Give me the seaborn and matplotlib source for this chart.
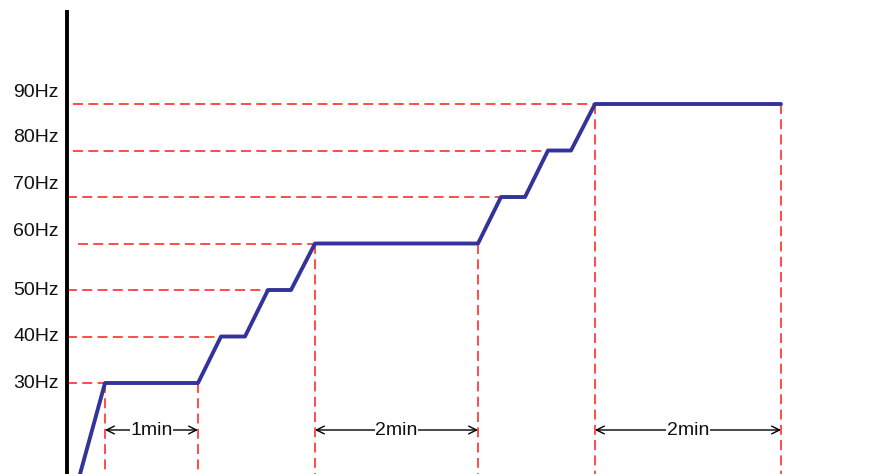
import numpy as np
import pandas as pd
import matplotlib.pyplot as plt
import seaborn as sns

sns.set_style("white")
plt.rcParams['font.family'] = ['Liberation Sans', 'DejaVu Sans']

# speed profile (time in drawing units, frequency in Hz)
t = [80, 105, 198, 221, 245, 268, 291, 315, 478, 501, 525, 548, 571, 595, 781]
freq = [10.4, 30, 30, 40, 40, 50, 50, 60, 60, 70, 70, 80, 80, 90, 90]

levels = [90, 80, 70, 60, 50, 40, 30]
level_labels = ['90Hz', '80Hz', '70Hz', '60Hz', '50Hz', '40Hz', '30Hz']
level_end = [595, 548, 501, 315, 268, 221, 105]
guide_start = [73, 73, 67, 78, 67, 67, 67]
label_y = [92.4, 82.7, 72.6, 62.5, 50, 40, 30]

marks_t = [105, 198, 315, 478, 595, 781]
marks_f = [30, 30, 60, 60, 90, 90]

spans = [(105, 198, '1min'), (315, 478, '2min'), (595, 781, '2min')]

f_bottom, f_top = 10.43, 112.37

fig = plt.figure(figsize=(8.95, 4.74), dpi=100)
ax = fig.add_axes([0, 0, 1, 1])
ax.set_xlim(0, 895)
ax.set_ylim(f_bottom, f_top)
ax.axis('off')

red = '#ff1a1a'
for lv, x0, x1 in zip(levels, guide_start, level_end):
    ax.plot([x0, x1], [lv, lv], color=red, lw=1.1, dashes=(6.5, 3.5))
for x, f in zip(marks_t, marks_f):
    ax.plot([x, x], [f, f_bottom], color=red, lw=1.1, dashes=(6.5, 3.5))

df = pd.DataFrame({'t': t, 'freq': freq})
sns.lineplot(data=df, x='t', y='freq', sort=False, color='#333399', lw=2.8, ax=ax)

ax.plot([67, 67], [110.2, f_bottom], color='black', lw=2.8, solid_capstyle='butt')

for lab, y in zip(level_labels, label_y):
    ax.text(59, y, lab, ha='right', va='center', fontsize=14, color='#111111')

arrow_f = 30 - (430 - 383) / 4.65
for x0, x1, lab in spans:
    ax.annotate('', xy=(x0, arrow_f), xytext=(x1, arrow_f),
                arrowprops=dict(arrowstyle='<->', color='black', lw=1,
                                shrinkA=0, shrinkB=0, mutation_scale=14))
    ax.text((x0 + x1) / 2, arrow_f, lab, ha='center', va='center', fontsize=14,
            color='#111111', bbox=dict(facecolor='white', edgecolor='none', pad=0.5))

ax.set_xlabel('')
ax.set_ylabel('')
plt.savefig('out.png', dpi=100)
plt.close()
